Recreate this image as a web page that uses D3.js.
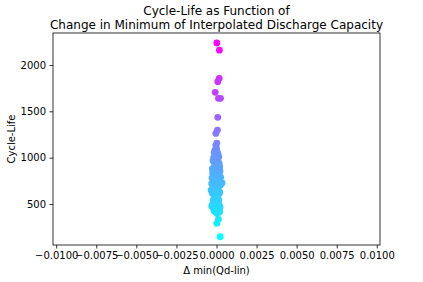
<!DOCTYPE html>
<html lang="en">
<head>
    <meta charset="utf-8">
    <title>Cycle-Life scatter</title>
    <script src="https://d3js.org/d3.v7.min.js" charset="utf-8"></script>
    <style>
        body { margin: 0; background: #fff; }
        text { font-family: "DejaVu Sans", sans-serif; fill: #000; }
    </style>
</head>
<body>
<script>

// change in minimum of interpolated discharge capacity
var deltaQ = [
    0.00002, 0.00018, 0.00017, 0.00008, -0.00008, 0.00012, 0.00025, 0.00008, 0.00006, -0.00004,
    0.00002, -0.00004, 0.00000, -0.00010, 0.00004, -0.00014, 0.00010, -0.00006, 0.00014, -0.00018,
    0.00006, -0.00022, 0.00016, -0.00002, -0.00012, 0.00020, -0.00026, 0.00008, 0.00012, -0.00016,
    0.00022, -0.00008, 0.00004, -0.00024, 0.00018, 0.00035, -0.00002, -0.00020, 0.00010, 0.00026,
    -0.00012, 0.00002, -0.00028, 0.00014, -0.00006, 0.00022, -0.00018, 0.00008, -0.00030, 0.00016,
    0.00000, -0.00022, 0.00024, -0.00010, 0.00006, -0.00034, 0.00012, -0.00016, 0.00020, -0.00004,
    -0.00026, 0.00018, 0.00002, -0.00012, 0.00010, -0.00020, 0.00014, -0.00006, 0.00004, -0.00014,
    0.00008, -0.00024, 0.00016, -0.00030, 0.00022, -0.00008, 0.00010, -0.00018, 0.00002, 0.00006,
    -0.00014, 0.00020, -0.00004, 0.00006, 0.00012, 0.00002, 0.00023
];
var cycleLife = [
    2237, 2160, 1856, 1820, 1705, 1640, 1640, 1435, 1298, 1262,
    1158, 1136, 1100, 1080, 1063, 1054, 1039, 1017, 1009, 1001,
    988, 966, 940, 932, 917, 905, 880, 876, 870, 862,
    858, 854, 842, 835, 825, 727, 818, 813, 800, 788,
    786, 784, 781, 768, 759, 740, 736, 733, 719, 709,
    704, 703, 702, 691, 671, 651, 645, 636, 630, 624,
    617, 616, 588, 573, 560, 541, 538, 534, 529, 519,
    502, 499, 491, 480, 466, 462, 458, 445, 438, 430,
    425, 418, 412, 395, 335, 292, 147
];

var xTicks = [-0.01, -0.0075, -0.005, -0.0025, 0, 0.0025, 0.005, 0.0075, 0.01];
var yTicks = [500, 1000, 1500, 2000];

var w = 423, h = 282;
var mLeft = 53, mTop = 33, mRight = 380, mBottom = 245;

var svg = d3.select("body").append("svg").attr("width", w).attr("height", h);

var x = d3.scaleLinear().domain([-0.0102, 0.0102]).range([mLeft, mRight]);
var y = d3.scaleLinear().domain([58, 2345]).range([mBottom, mTop]);
var color = d3.scaleLinear()
    .domain([d3.min(cycleLife), d3.max(cycleLife)])
    .range(["#00ffff", "#ff00ff"])
    .interpolate(d3.interpolateRgb);

var points = deltaQ.map(function (d, i) { return { dq: d, life: cycleLife[i] }; });

svg.append("g").selectAll("circle").data(points).enter().append("circle")
    .attr("cx", function (d) { return x(d.dq); })
    .attr("cy", function (d) { return y(d.life); })
    .attr("r", 3.4)
    .attr("fill", function (d) { return color(d.life); });

var xAxis = svg.append("g").attr("transform", "translate(0," + mBottom + ")")
    .call(d3.axisBottom(x).tickValues(xTicks).tickFormat(d3.format(".4f")).tickSize(3.5).tickPadding(3.5));
var yAxis = svg.append("g").attr("transform", "translate(" + mLeft + ",0)")
    .call(d3.axisLeft(y).tickValues(yTicks).tickFormat(d3.format("d")).tickSize(3.5).tickPadding(3.5));

[xAxis, yAxis].forEach(function (g) {
    g.select(".domain").remove();
    g.selectAll("text").style("font-size", "10px").style("font-family", "DejaVu Sans");
    g.selectAll("line").attr("stroke", "#000").attr("stroke-width", 0.8);
});

svg.append("rect").attr("x", mLeft).attr("y", mTop)
    .attr("width", mRight - mLeft).attr("height", mBottom - mTop)
    .attr("fill", "none").attr("stroke", "#000").attr("stroke-width", 0.8);

svg.append("text").attr("x", (mLeft + mRight) / 2).attr("y", 15).attr("text-anchor", "middle")
    .style("font-size", "12px").text("Cycle-Life as Function of");
svg.append("text").attr("x", (mLeft + mRight) / 2).attr("y", 29).attr("text-anchor", "middle")
    .style("font-size", "12px").text("Change in Minimum of Interpolated Discharge Capacity");

svg.append("text").attr("x", (mLeft + mRight) / 2).attr("y", 274).attr("text-anchor", "middle")
    .style("font-size", "10px").text("Δ min(Qd-lin)");
svg.append("text").attr("transform", "translate(15," + ((mTop + mBottom) / 2) + ") rotate(-90)")
    .attr("text-anchor", "middle").style("font-size", "10px").text("Cycle-Life");

</script>
</body>
</html>
